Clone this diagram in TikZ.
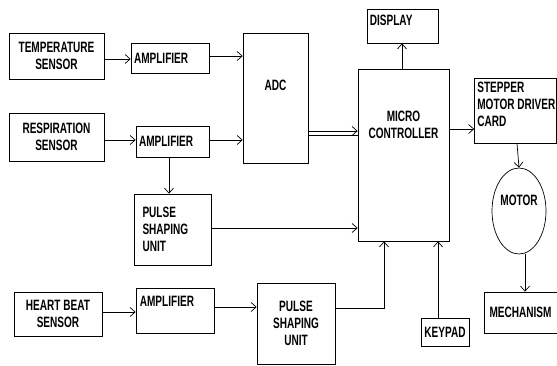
\documentclass[tikz,border=0pt]{standalone}
\usepackage{fontspec}
\setmainfont{Liberation Sans}[FakeStretch=0.67]
\usetikzlibrary{arrows.meta,shapes.geometric}
\tikzset{box/.style={draw,rectangle,line width=0.7pt,inner sep=3pt,font=\fontsize{15}{17}\selectfont\bfseries},
  tag/.style={inner sep=3pt,align=left,font=\fontsize{15}{17}\selectfont\bfseries},
  arr/.style={-{Straight Barb[length=5pt,width=9pt]},line width=0.7pt}}

\begin{document}
\begin{tikzpicture}[x=1pt,y=-1pt]
\useasboundingbox (0,0) rectangle (557,365);

% sensors
\node[box, minimum width=95pt, minimum height=46pt, align=center] (temp) at (56.5,56) {TEMPERATURE\\SENSOR};
\node[box, minimum width=95pt, minimum height=48pt, align=center] (resp) at (56.5,137) {RESPIRATION\\SENSOR};
\node[box, minimum width=88pt, minimum height=44pt, align=center] (heart) at (58,314) {HEART BEAT\\SENSOR};

% amplifiers
\node[box, text width=72pt, align=left, minimum height=30pt] (amp1) at (170,58) {AMPLIFIER};
\node[box, text width=67pt, align=left, minimum height=31pt] (amp2) at (172.5,141.5) {AMPLIFIER};
\node[box, minimum width=78pt, minimum height=45pt, label={[tag,anchor=north west,yshift=-5pt,xshift=1pt]north west:AMPLIFIER}] (amp3) at (175,310.5) {};

% pulse shaping
\node[box, text width=60pt, align=left, minimum width=77pt, minimum height=71pt] (ps1) at (172.5,229.5) {PULSE\\SHAPING\\UNIT};
\node[box, minimum width=78pt, minimum height=81pt, align=center] (ps2) at (296,323.5) {PULSE\\SHAPING\\UNIT};

% converter and controller
\node[box, minimum width=65pt, minimum height=130pt, label={[tag,anchor=center,yshift=13pt]center:ADC}] (adc) at (275.5,98) {};
\node[box, minimum width=91pt, minimum height=172pt, label={[tag,align=center,anchor=center,yshift=30pt]center:MICRO\\CONTROLLER}] (mc) at (403.5,155) {};
\node[box, minimum width=71pt, minimum height=34pt, label={[tag,anchor=north west,yshift=-3pt]north west:DISPLAY}] (disp) at (402.5,26) {};
\node[box, minimum width=48pt, minimum height=28pt] (key) at (445,332) {KEYPAD};

% output side
\node[box, minimum width=82pt, minimum height=65pt, label={[tag,anchor=north west,yshift=-1pt]north west:STEPPER\\MOTOR DRIVER\\CARD}] (drv) at (515.5,110.5) {};
\node[box, ellipse, minimum width=54pt, minimum height=86pt, label={[tag,anchor=center,yshift=11pt]center:MOTOR}] (motor) at (519,211) {};
\node[box, minimum width=73pt, minimum height=41pt] (mech) at (520.5,312.5) {MECHANISM};

% arrows
\draw[arr] (temp.east |- 0,59) -- (amp1.west |- 0,59);
\draw[arr] (amp1.east |- 0,56) -- (adc.west |- 0,56);
\draw[arr] (resp.east |- 0,140) -- (amp2.west |- 0,140);
\draw[arr] (amp2.east |- 0,140) -- (adc.west |- 0,140);
\draw[arr] (amp2.south -| 169,0) -- (ps1.north -| 169,0);
\draw[line width=0.7pt] (adc.east |- 0,135) -- (mc.west |- 0,135);
\draw[arr] (adc.east |- 0,131) -- (mc.west |- 0,131);
\draw[arr] (ps1.east |- 0,228) -- (mc.west |- 0,228);
\draw[arr] (mc.north -| 402,0) -- (disp.south -| 402,0);
\draw[arr] (mc.east |- 0,129) -- (drv.west |- 0,129);
\draw[arr] (drv.south -| 517,0) -- (motor.north);
\draw[arr] (motor.south -| 525,0) -- (mech.north -| 525,0);
\draw[arr] (key.north -| 438,0) -- (mc.south -| 438,0);

\draw[arr] (heart.east |- 0,312) -- (amp3.west |- 0,312);
\draw[arr] (amp3.east |- 0,307) -- (ps2.west |- 0,307);
\draw[arr] (ps2.east |- 0,308) -| (mc.south -| 384,0);
\end{tikzpicture}
\end{document}
